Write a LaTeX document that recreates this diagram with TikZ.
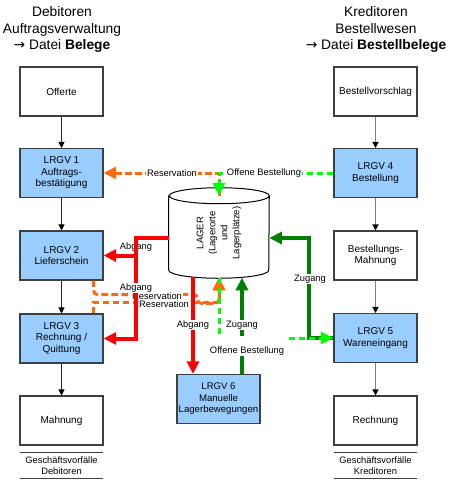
\documentclass[tikz,border=0pt]{standalone}
\usepackage{fontspec}
\setmainfont{Liberation Sans}
\newfontfamily\pfeilfont{DejaVu Sans}
\usepackage{xcolor}
\usepackage{tikz}
\usetikzlibrary{calc,arrows.meta,positioning}
\definecolor{LRBlue}{HTML}{99CCFF}
\definecolor{LRBorder}{HTML}{3F3F3F}
\definecolor{LRRed}{HTML}{FF0000}
\definecolor{LROrange}{HTML}{FF6A10}
\definecolor{LRLime}{HTML}{00FF00}
\definecolor{LRGreen}{HTML}{008000}
\definecolor{LRGray}{HTML}{808080}

\begin{document}
\begin{tikzpicture}[x=0.75pt, y=-0.75pt,
  beleg/.style={draw=LRBorder, line width=0.8pt, fill=white, minimum width=62.25pt,
    minimum height=36.75pt, inner sep=0pt, align=center, font=\fontsize{7.5}{8.6}\selectfont},
  lrgv/.style={beleg, fill=LRBlue},
  kopf/.style={align=center, font=\fontsize{10.35}{12.4}\selectfont},
  fuss/.style={minimum width=62.25pt, minimum height=18.75pt, inner sep=0pt,
    align=center, font=\fontsize{7}{8.25}\selectfont},
  lbl/.style={fill=white, inner sep=0.6pt, font=\fontsize{7}{8}\selectfont},
  fluss/.style={draw=black!85, line width=0.75pt, -{Triangle[length=4.5pt, width=4.5pt, color=black]}},
  flussgrau/.style={fluss, draw=LRGray, line width=1pt},
  abgang/.style={draw=LRRed, line width=3pt, -{Triangle[length=9.5pt, width=9pt]}},
  zugang/.style={abgang, draw=LRGreen},
  reserv/.style={draw=LROrange, line width=2.25pt, dash pattern=on 5pt off 2.5pt,
    -{Triangle[length=9.5pt, width=9pt]}},
  offen/.style={reserv, draw=LRLime}]
\useasboundingbox (0,0) rectangle (451,481);

% Spaltenkoepfe
\node[kopf] (kopfdeb) at (62,29.5) {Debitoren\\Auftragsverwaltung\\{\pfeilfont →} Datei \textbf{Belege}};
\node[kopf] (kopfkred) at (376,29.5) {Kreditoren\\Bestellwesen\\{\pfeilfont →} Datei \textbf{Bestellbelege}};

% Debitoren
\node[beleg] (offerte) at (61.5,91.5) {Offerte};
\node[lrgv] (lrgv1) at (61.5,173) {LRGV 1\\Auftrags-\\bestätigung};
\node[lrgv] (lrgv2) at (61.5,255.5) {LRGV 2\\Lieferschein};
\node[lrgv] (lrgv3) at (61.5,338.5) {LRGV 3\\Rechnung /\\Quittung};
\node[beleg] (mahnung) at (61.5,420.5) {Mahnung};
\node[fuss] (gvdeb) at (61.5,465.5) {Geschäftsvorfälle\\Debitoren};

% Kreditoren
\node[beleg] (vorschlag) at (375.5,91.5) {Bestellvorschlag};
\node[lrgv] (lrgv4) at (375.5,173) {LRGV 4\\Bestellung};
\node[beleg] (bmahnung) at (375.5,255.5) {Bestellungs-\\Mahnung};
\node[lrgv] (lrgv5) at (375.5,338) {LRGV 5\\Wareneingang};
\node[beleg] (rechnung) at (375.5,420.5) {Rechnung};
\node[fuss] (gvkred) at (375.5,465.5) {Geschäftsvorfälle\\Kreditoren};

% Lager
\node[lrgv, font=\fontsize{7.2}{8.6}\selectfont] (lrgv6) at (218.5,399) {LRGV 6\\Manuelle\\Lagerbewegungen};
\node[minimum width=75pt, minimum height=55.5pt, inner sep=0pt, font=\fontsize{7.1}{9}\selectfont]
  (lager) at (219,233) {\rotatebox{90}{\begin{tabular}{@{}c@{}}LAGER\\(Lagerorte\\und\\Lagerplätze)\end{tabular}}};
\draw[line width=0.75pt] (lager.north west) -- (lager.south west)
  arc[start angle=180, end angle=360, x radius=37.5pt, y radius=6pt] -- (lager.north east)
  arc[start angle=0, end angle=180, x radius=37.5pt, y radius=6pt]
  arc[start angle=180, end angle=360, x radius=37.5pt, y radius=6pt];
\coordinate (lagerbot) at ([yshift=-5.5pt]lager.south);
\coordinate (abg) at ([yshift=-3.75pt]lager.west);
\coordinate (zug) at ([yshift=-3.75pt]lager.east);
\coordinate (abg6) at ([xshift=-19.5pt, yshift=-5pt]lager.south);
\coordinate (zug6) at ([xshift=17.6pt]lrgv6.north);

% Belegfluss
\foreach \a/\b in {offerte/lrgv1, lrgv1/lrgv2, lrgv2/lrgv3, lrgv3/mahnung}
  \draw[fluss] (\a) -- (\b);
\foreach \a/\b in {vorschlag/lrgv4, lrgv4/bmahnung, bmahnung/lrgv5, lrgv5/rechnung}
  \draw[flussgrau] (\a) -- (\b);
\draw[LRBorder, line width=0.75pt] (gvdeb.north west) -- (gvdeb.north east)
  (gvdeb.south west) -- (gvdeb.south east);
\draw[LRBorder, line width=0.75pt] (gvkred.north west) -- (gvkred.north east)
  (gvkred.south west) -- (gvkred.south east);

% Reservationen und offene Bestellungen
\draw[reserv] (lager.north) |- (lrgv1.east);
\node[lbl] (lres1) at (172,173) {Reservation};
\draw[offen] (lrgv4.west) -| (lager.north);
\node[lbl] (loff1) at (264,173) {Offene Bestellung};
\draw[reserv, rounded corners=3pt] ([xshift=-7.5pt]lrgv2.south east) -- ++(0,14) -- ++(104,0)
  -- ++(0,9) -| (lagerbot);
\node[lbl] (lres2) at (157,296) {Reservation};
\draw[reserv] ([xshift=-7.5pt]lrgv3.north east) -- ++(0,-11) -| (lagerbot);
\node[lbl] (lres3) at (164,304) {Reservation};

% Abgaenge
\draw[abgang] (abg) -- ++(-33,0) |- (lrgv2.east);
\node[lbl] (labg1) at (136,247) {Abgang};
\draw[abgang] (abg) -- ++(-33,0) |- (lrgv3.east);
\node[lbl] (labg2) at (136,288) {Abgang};
\draw[abgang] (abg6) -- (abg6 |- lrgv6.north);
\node[lbl] (labg3) at (193,325) {Abgang};

% Zugaenge
\draw[zugang] (zug6) -- (zug6 |- lagerbot);
\node[lbl] (lzug1) at (242,325) {Zugang};
\draw[zugang] (lrgv5.west) -- ++(-24,0) |- (zug);
\node[lbl] (lzug2) at (310,279) {Zugang};
\draw[offen] (lagerbot) |- (lrgv5.west);
\node[lbl, anchor=base, text height=13pt, text depth=1.5pt, inner ysep=0.5pt] (loff2)
  at (247,353.5) {Offene Bestellung};
\end{tikzpicture}
\end{document}
